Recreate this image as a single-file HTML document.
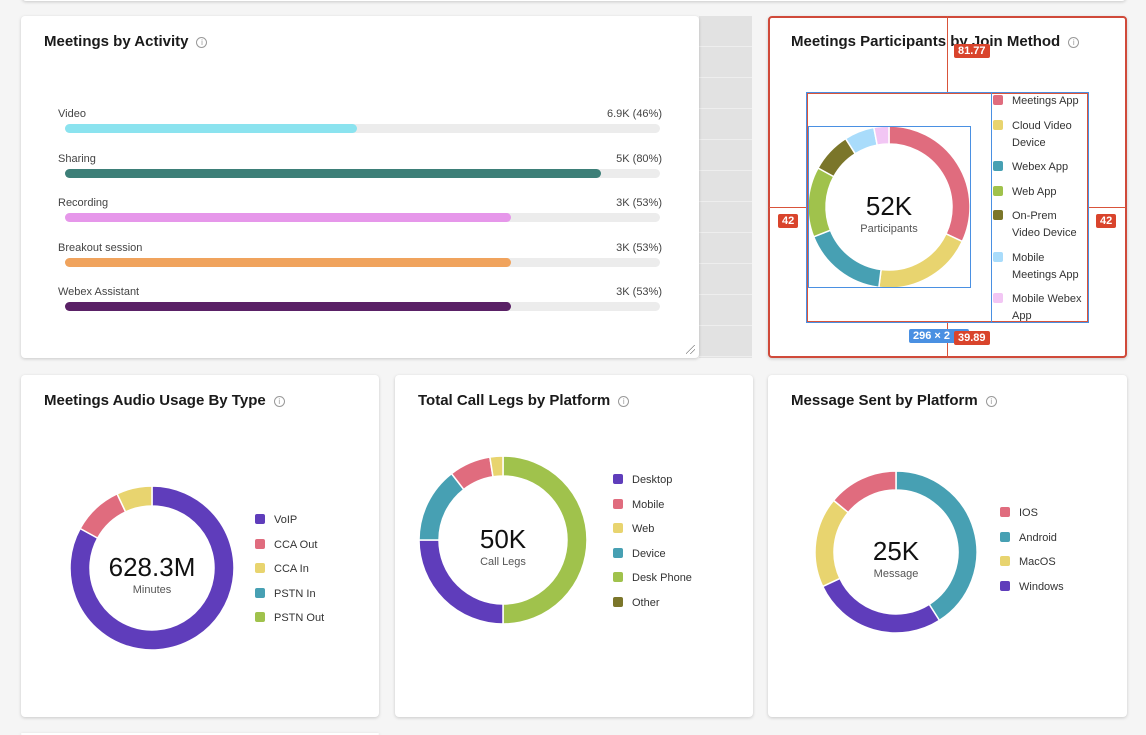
<!DOCTYPE html>
<html><head><meta charset="utf-8">
<style>
*{box-sizing:border-box;margin:0;padding:0}
html{width:1146px;height:735px;overflow:hidden}
body{width:1146px;height:735px;background:#f5f5f5;font-family:"Liberation Sans",sans-serif;position:relative;overflow:hidden;color:#222}
.card{position:absolute;background:#fff;border-radius:4px;box-shadow:0 1px 3px rgba(0,0,0,.18)}
.title{position:absolute;left:23px;top:17px;font-size:15px;font-weight:bold;color:#1a1a1a;white-space:nowrap}
.info{display:inline-block;width:11px;height:11px;border:1px solid #999;border-radius:50%;font-size:8px;line-height:9px;text-align:center;color:#999;font-weight:normal;vertical-align:1px;margin-left:8px}
.lbl{position:absolute;font-size:11px;color:#444}
.track{position:absolute;height:9px;background:#ececec;border-radius:5px}
.fill{position:absolute;left:0;top:0;height:9px;border-radius:5px}
.leg{position:absolute;font-size:11px;color:#333;white-space:nowrap}
.sw{position:absolute;width:10px;height:10px;border-radius:2px}
.rl{position:absolute;background:#d9543a}
.tag{position:absolute;background:#d9442c;color:#fff;font-size:11px;font-weight:bold;padding:1px 4px;border-radius:2px}
</style></head><body>
<div class="card" style="left:22px;top:-10px;width:1104px;height:11px"></div>
<div style="position:absolute;left:699px;top:16px;width:53px;height:342px;background:repeating-linear-gradient(#e2e2e2 0,#e2e2e2 30px,#eee 30px,#eee 31px)"></div>

<div class="card" style="left:21px;top:16px;width:678px;height:342px">
 <div class="title">Meetings by Activity<span class="info">i</span></div>
 <div id="bars"></div>
 <div style="position:absolute;right:4px;bottom:4px;width:9px;height:9px;background:linear-gradient(135deg,transparent 45%,#888 45%,#888 52%,transparent 52%,transparent 70%,#888 70%,#888 77%,transparent 77%)"></div>
</div>

<div class="card" style="left:768px;top:16px;width:359px;height:342px;border:2px solid #d04a3a">
 <div class="title" style="left:21px;top:15px">Meetings Participants by Join Method<span class="info">i</span></div>
</div>

<div class="card" style="left:21px;top:375px;width:358px;height:342px">
 <div class="title">Meetings Audio Usage By Type<span class="info">i</span></div>
</div>
<div class="card" style="left:395px;top:375px;width:358px;height:342px">
 <div class="title">Total Call Legs by Platform<span class="info">i</span></div>
</div>
<div class="card" style="left:768px;top:375px;width:359px;height:342px">
 <div class="title">Message Sent by Platform<span class="info">i</span></div>
</div>
<div class="card" style="left:21px;top:733px;width:358px;height:2px"></div>
<svg id="donuts" style="position:absolute;left:0;top:0" width="1146" height="735"></svg>
<div id="legends"></div>

<!-- inspector overlay -->
<div class="rl" style="left:947px;top:16px;width:1px;height:77px"></div>
<div class="rl" style="left:947px;top:321px;width:1px;height:37px"></div>
<div class="rl" style="left:769px;top:207px;width:39px;height:1px"></div>
<div class="rl" style="left:1087px;top:207px;width:39px;height:1px"></div>
<div style="position:absolute;left:807px;top:93px;width:281px;height:229px;border:1px solid #d9543a;outline:1px solid #4a90e2"></div>
<div style="position:absolute;left:808px;top:126px;width:163px;height:162px;border:1px solid #4a90e2"></div>
<div style="position:absolute;left:991px;top:93px;width:97px;height:229px;border-left:1px solid #4a90e2"></div>
<div class="tag" style="left:954px;top:44px">81.77</div>
<div class="tag" style="left:778px;top:214px">42</div>
<div class="tag" style="left:1096px;top:214px">42</div>
<div class="tag" style="left:909px;top:329px;background:#4a90e2;width:60px">296 × 2</div>
<div class="tag" style="left:954px;top:331px">39.89</div>

<script>
// Meetings by Activity
const actCats=["Video","Sharing","Recording","Breakout session","Webex Assistant"];
const actFill=[0.49,0.90,0.75,0.75,0.75];
const actLabels=["6.9K (46%)","5K (80%)","3K (53%)","3K (53%)","3K (53%)"];
const actColors=["#8be3ef","#3d7f78","#e697ea","#f0a35d","#5a2166"];
const bars=document.getElementById('bars');
const trackW=595;
actCats.forEach((c,i)=>{
  const y=92+i*44.5;
  const l=document.createElement('div');l.className='lbl';l.style.left='37px';l.style.top=y+'px';l.textContent=c;
  
  
  bars.appendChild(l);
  const v=document.createElement('div');v.className='lbl';v.style.right='37px';v.style.top=y+'px';v.textContent=actLabels[i];
  
  
  bars.appendChild(v);
  const t=document.createElement('div');t.className='track';t.style.left='44px';t.style.top=(y+16)+'px';t.style.width=trackW+'px';
  
  
  const f=document.createElement('div');f.className='fill';f.style.width=(actFill[i]*trackW)+'px';f.style.background=actColors[i];
  
  
  t.appendChild(f);bars.appendChild(t);
});

// Donut data (drawn clockwise from top)
const joinCats=["Meetings App","Cloud Video Device","Webex App","Web App","On-Prem Video Device","Mobile Meetings App","Mobile Webex App"];
const joinVals=[32,20,17,14,8,6,3];
const joinColors=["#e06c7e","#e8d46f","#47a0b3","#a0c24c","#7b762a","#a9dcfb","#f2c6f4"];
const audioCats=["VoIP","CCA Out","CCA In","PSTN In","PSTN Out"];
const audioVals=[83,10,7,0,0];
const audioColors=["#5f3dbb","#e06c7e","#e8d46f","#47a0b3","#a0c24c"];
const callOrder=["Desk Phone","Desktop","Device","Mobile","Web","Other"];
const callVals=[50,25,14.5,8,2.5,0];
const callOrderColors=["#a0c24c","#5f3dbb","#47a0b3","#e06c7e","#e8d46f","#7b762a"];
const callLegend=["Desktop","Mobile","Web","Device","Desk Phone","Other"];
const callLegendColors=["#5f3dbb","#e06c7e","#e8d46f","#47a0b3","#a0c24c","#7b762a"];
const msgOrder=["Android","Windows","MacOS","IOS"];
const msgVals=[41,27,18,14];
const msgOrderColors=["#47a0b3","#5f3dbb","#e8d46f","#e06c7e"];
const msgLegend=["IOS","Android","MacOS","Windows"];
const msgLegendColors=["#e06c7e","#47a0b3","#e8d46f","#5f3dbb"];

const NS="http://www.w3.org/2000/svg";
const svg=document.getElementById('donuts');
function donut(cx,cy,ro,ri,vals,colors,big,sub,bigSize){
  const tot=vals.reduce((a,b)=>a+b,0);let a0=0;
  vals.forEach((v,i)=>{
    if(v<=0)return;
    const a1=a0+v/tot*Math.PI*2;
    const p=(r,a)=>[cx+r*Math.sin(a),cy-r*Math.cos(a)];
    const [x0,y0]=p(ro,a0),[x1,y1]=p(ro,a1),[x2,y2]=p(ri,a1),[x3,y3]=p(ri,a0);
    const lg=(a1-a0)>Math.PI?1:0;
    const path=document.createElementNS(NS,'path');
    path.setAttribute('d',`M${x0},${y0}A${ro},${ro} 0 ${lg} 1 ${x1},${y1}L${x2},${y2}A${ri},${ri} 0 ${lg} 0 ${x3},${y3}Z`);
    path.setAttribute('fill',colors[i]);path.setAttribute('stroke','#fff');path.setAttribute('stroke-width','1.5');
    
    
    svg.appendChild(path);a0=a1;
  });
  const t=document.createElementNS(NS,'text');t.setAttribute('x',cx);t.setAttribute('y',cy+8);t.setAttribute('text-anchor','middle');
  t.setAttribute('font-size',bigSize);t.setAttribute('fill','#111');t.setAttribute('font-family','Liberation Sans, sans-serif');t.textContent=big;
  
  
  svg.appendChild(t);
  const s=document.createElementNS(NS,'text');s.setAttribute('x',cx);s.setAttribute('y',cy+25);s.setAttribute('text-anchor','middle');
  s.setAttribute('font-size',11);s.setAttribute('fill','#555');s.setAttribute('font-family','Liberation Sans, sans-serif');s.textContent=sub;
  
  
  svg.appendChild(s);
}
donut(889,207,81,63,joinVals,joinColors,"52K","Participants",26);
donut(152,568,82,62,audioVals,audioColors,"628.3M","Minutes",26);
donut(503,540,84,64,callVals,callOrderColors,"50K","Call Legs",26);
donut(896,552,81,62,msgVals,msgOrderColors,"25K","Message",26);

const legends=document.getElementById('legends');
function legend(x,y,cats,colors,step,lines){
  let yy=y;
  cats.forEach((c,i)=>{
    const sw=document.createElement('div');sw.className='sw';sw.style.left=x+'px';sw.style.top=(yy+2)+'px';sw.style.background=colors[i];
    
    
    legends.appendChild(sw);
    const t=document.createElement('div');t.className='leg';t.style.left=(x+19)+'px';t.style.top=yy+'px';t.style.lineHeight='17px';
    t.innerHTML=lines?lines[i]:c;
    
    
    legends.appendChild(t);
    yy+=lines&&lines[i].includes('<br>')?step+17:step;
  });
}
legend(993,93,joinCats,joinColors,24.5,["Meetings App","Cloud Video<br>Device","Webex App","Web App","On-Prem<br>Video Device","Mobile<br>Meetings App","Mobile Webex<br>App"]);
legend(255,512,audioCats,audioColors,24.5);
legend(613,472,callLegend,callLegendColors,24.5);
legend(1000,505,msgLegend,msgLegendColors,24.5);
</script>
</body></html>
